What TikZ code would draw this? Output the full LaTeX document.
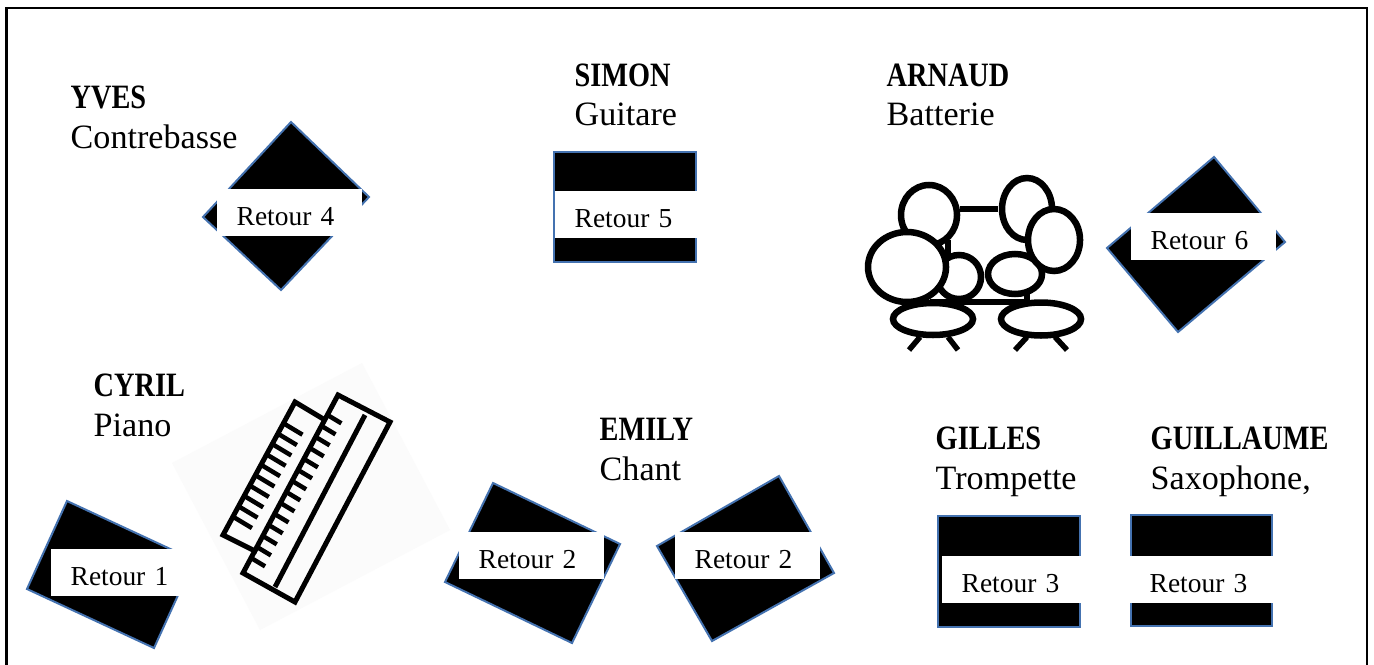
\documentclass[tikz,border=0pt]{standalone}
\usepackage{fontspec}
\setmainfont[BoldFeatures={FakeStretch=0.83}]{Liberation Serif}
\usetikzlibrary{calc}
\definecolor{edgeblue}{RGB}{68,114,176}
\tikzset{
	monitor/.style={draw=edgeblue, fill=black, line width=0.02cm},
	retour/.style={fill=white, anchor=west, inner xsep=0.2cm, inner ysep=0pt, text width=1.05cm, align=left, text height=0.36cm, text depth=0.11cm, font=\fontsize{7.8}{9}\selectfont},
	musician/.style={anchor=base west, inner sep=0pt, align=left, font=\fontsize{9.7}{11.1}\selectfont},
	kit/.style={draw=black, fill=white, line width=0.065cm},
	kit line/.style={line width=0.055cm},
	piano line/.style={line width=0.05cm},
	piano key/.style={line width=0.045cm}
}

\begin{document}
\begin{tikzpicture}[x=0.01cm, y=-0.01cm]
	\useasboundingbox (0,0) rectangle (1374,664);
	\fill[white] (0,0) rectangle (1374,664);

	\draw[line width=0.022cm] (6.5,670) -- (6.5,8) -- (1367,8) -- (1367,670);

	% monitors
	\draw[monitor] (291,122) -- (369,197) -- (281,290) -- (203,217) -- cycle;
	\node[retour] (retour4) at (216,212.5) {Retour 4};

	\draw[monitor] (554,152) rectangle (696,262);
	\node[retour] (retour5) at (554,214.5) {Retour 5};

	\draw[monitor] (1214,157) -- (1285,242) -- (1178,332) -- (1107,248) -- cycle;
	\node[retour] (retour6) at (1130,236.5) {Retour 6};

	\draw[monitor] (67,501) -- (194,560) -- (154,648) -- (27,589) -- cycle;
	\node[retour] (retour1) at (50,572.5) {Retour 1};

	\draw[monitor] (493,483) -- (620,544) -- (572,643) -- (445,582) -- cycle;
	\node[retour] (retour2a) at (458,555.5) {Retour 2};

	\draw[monitor] (779,476) -- (834,573) -- (712,641) -- (657,546) -- cycle;
	\node[retour] (retour2b) at (674,555.5) {Retour 2};

	\draw[monitor] (938,516) rectangle (1080,627);
	\node[retour] (retour3a) at (941,579.5) {Retour 3};

	\draw[monitor] (1131,515) rectangle (1272,626);
	\node[retour] (retour3b) at (1129,579.5) {Retour 3};

	% musicians
	\node[musician] (yves) at (70,148) {\textbf{YVES}\\Contrebasse};
	\node[musician] (simon) at (574,126) {\textbf{SIMON}\\Guitare};
	\node[musician] (arnaud) at (886,126) {\textbf{ARNAUD}\\Batterie};
	\node[musician] (cyril) at (93,436) {\textbf{CYRIL}\\Piano};
	\node[musician] (emily) at (599,480) {\textbf{EMILY}\\Chant};
	\node[musician] (gilles) at (935,489) {\textbf{GILLES}\\Trompette};
	\node[musician] (guillaume) at (1150,489) {\textbf{GUILLAUME}\\Saxophone,};

	% piano
	\fill[black!1.5] (172,463) -- (362,363) -- (450,530) -- (260,630) -- cycle;
	\coordinate (keya) at (295,402);
	\coordinate (keyb) at (223,535);
	\coordinate (keyc) at (338,395);
	\coordinate (keyd) at (243,573);
	\draw[piano line] (325,420) -- (keya) -- (keyb) -- (257,552);
	\draw[piano line] (keyc) -- (390,422) -- (295,602) -- (keyd) -- cycle;
	\draw[piano line] (365,415) -- (275,587);
	\foreach \t in {0,...,9}
		\draw[piano key] ($(keya)!0.16+0.078*\t!(keyb)$) -- +(19,11.4);
	\foreach \t in {0,...,13}
		\draw[piano key] ($(keyc)!0.112+0.0618*\t!(keyd)$) -- +(14,8.4);

	% drum kit
	\draw[kit line] (960,209) -- (998,209);
	\draw[kit line] (930,302) -- (1027,302) -- (1027,290);
	\draw[kit line] (948,240) -- (948,262);
	\draw[kit] (929,215) ellipse (28 and 30);
	\draw[kit] (1027,209) ellipse (25 and 31);
	\draw[kit] (959,277) ellipse (22 and 22);
	\draw[kit] (1015,274) ellipse (27 and 20);
	\draw[kit] (1054,240) ellipse (26 and 31);
	\draw[kit] (907,267) ellipse (39 and 35);
	\draw[kit] (933,319) ellipse (40 and 16);
	\draw[kit] (1041,319) ellipse (40 and 16.5);
	\draw[kit line] (920,337) -- (909,350);
	\draw[kit line] (948,337) -- (958,350);
	\draw[kit line] (1027,337) -- (1015,350);
	\draw[kit line] (1055,337) -- (1067,350);
\end{tikzpicture}
\end{document}
